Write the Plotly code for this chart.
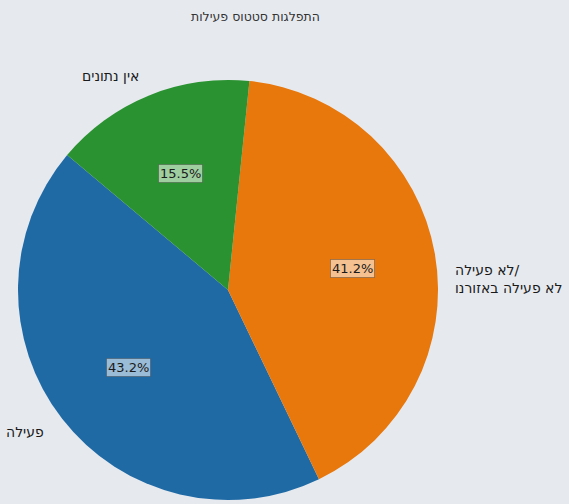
import math
import plotly.graph_objects as go

# ---- data ----
labels = ["פעילה", "לא פעילה/<br>לא פעילה באזורנו", "אין נתונים"]
values = [43.2, 41.2, 15.5]
colors = ["#1f6aa5", "#e8770c", "#2a9230"]
title_text = "התפלגות סטטוס פעילות"

# ---- layout constants (pixels) ----
W, H = 569, 504
cx, cy, r = 228, 290, 210
start_angle = 140.0  # degrees, ccw from +x (matplotlib style)
bg = "#e6eaef"
font_family = "DejaVu Sans"

total = sum(values)
fracs = [v / total for v in values]

# plotly rotation (cw from 12 o'clock), counterclockwise direction
start_cw = 90.0 - start_angle  # cw from top
rotation = start_cw - fracs[0] * 360.0
while rotation < -360:
    rotation += 360

fig = go.Figure()
fig.add_trace(go.Pie(
    values=values,
    labels=labels,
    sort=False,
    direction="counterclockwise",
    rotation=rotation,
    marker=dict(colors=colors, line=dict(width=0)),
    textinfo="none",
    hoverinfo="label+percent",
    showlegend=False,
    domain=dict(x=[(cx - r) / W, (cx + r) / W], y=[1 - (cy + r) / H, 1 - (cy - r) / H]),
))

annotations = []
theta = start_angle
label_yshift = [0, -29, 0]
for i, f in enumerate(fracs):
    mid = math.radians(theta + f * 180.0)
    theta += f * 360.0
    # percentage text at 0.6 r
    px = cx + 0.6 * r * math.cos(mid)
    py = cy - 0.6 * r * math.sin(mid)
    annotations.append(dict(
        x=px / W, y=1 - py / H, xref="paper", yref="paper",
        text=f"{values[i] / total * 100:.1f}%", showarrow=False,
        xanchor="center", yanchor="middle",
        font=dict(family=font_family, size=13, color="#1a1a1a"),
        bgcolor="rgba(255,255,255,0.55)", bordercolor="rgba(70,70,70,0.45)",
        borderwidth=1, borderpad=1,
    ))
    # label at 1.1 r
    lx = cx + 1.1 * r * math.cos(mid)
    ly = cy - 1.1 * r * math.sin(mid)
    left = lx > cx
    annotations.append(dict(
        x=lx / W, y=1 - ly / H, xref="paper", yref="paper",
        text=labels[i], showarrow=False,
        xanchor="left" if left else "right", yanchor="middle",
        align="left" if left else "right",
        xshift=-3 if left else 0,
        yshift=label_yshift[i],
        font=dict(family=font_family, size=14, color="#1a1a1a"),
    ))

annotations.append(dict(
    x=256 / W, y=1 - 17 / H, xref="paper", yref="paper",
    text=title_text, showarrow=False, xanchor="center", yanchor="middle",
    font=dict(family=font_family, size=12.5, color="#333333"),
))

fig.update_layout(
    width=W, height=H,
    margin=dict(l=0, r=0, t=0, b=0),
    paper_bgcolor=bg, plot_bgcolor=bg,
    annotations=annotations,
)

fig.write_html(
    "out.html",
    config={"displayModeBar": False},
    post_script="document.body.style.margin='0';document.body.style.background='" + bg + "';",
)
